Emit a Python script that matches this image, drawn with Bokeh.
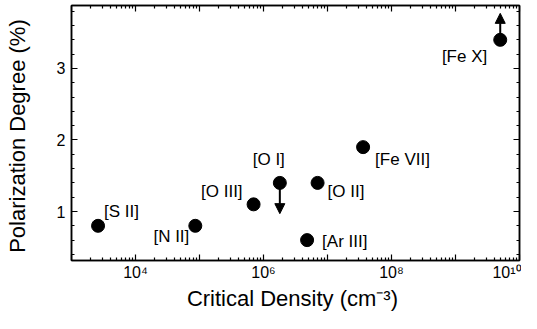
from bokeh.plotting import figure
from bokeh.models import (ColumnDataSource, FixedTicker, LinearAxis, LogAxis,
                          CustomJSTickFormatter, Arrow, NormalHead, Range1d)
from bokeh.core.properties import value
from bokeh.embed import file_html
from bokeh.resources import INLINE

# ---- data ----
lines = ["[S II]", "[N II]", "[O III]", "[O I]", "[O II]", "[Ar III]", "[Fe VII]", "[Fe X]"]
crit_density = [2.6e3, 8.6e4, 7.0e5, 1.8e6, 7.0e6, 4.8e6, 3.6e7, 5.0e9]
pol_degree = [0.8, 0.8, 1.1, 1.4, 1.4, 0.6, 1.9, 3.4]

# limits (arrows): upper limit for [O I], lower limit for [Fe X]
limit_x = [1.8e6, 5.0e9]
limit_y_start = [1.4, 3.4]
limit_y_end = [0.97, 3.77]

# label placement (pixels) -- style, not data
label_dx = [6, -6, -11, 5, 10, 15, 12, -13]
label_dy = [-14, 11, -13, -23, 9, 1, 12, 17]
label_align = ["left", "right", "right", "right", "left", "left", "left", "right"]

x_major = [10.0 ** k for k in range(3, 11)]
x_minor = [m * 10.0 ** k for k in range(3, 10) for m in range(2, 10)]
y_major = [1, 2, 3]
y_minor = [round(0.4 + 0.2 * i, 1) for i in range(18)]

FONT = "Liberation Sans"

p = figure(width=521, height=313, x_axis_type="log",
           x_range=Range1d(1e3, 1e10), y_range=Range1d(0.315, 3.88),
           output_backend="svg", toolbar_location=None,
           min_border_left=71, min_border_right=2, min_border_top=5,
           min_border_bottom=53)
p.grid.visible = False
p.outline_line_color = "black"
p.outline_line_width = 1.5
p.background_fill_color = "white"
p.border_fill_color = "white"

xt = FixedTicker(ticks=x_major, minor_ticks=x_minor)
yt = FixedTicker(ticks=y_major, minor_ticks=y_minor)

fmt = CustomJSTickFormatter(code="""
const e = Math.round(Math.log10(tick));
if (e % 2 != 0) return "";
const sup = {"0":"\u2070","1":"\u00b9","2":"\u00b2","3":"\u00b3","4":"\u2074","5":"\u2075","6":"\u2076","7":"\u2077","8":"\u2078","9":"\u2079"};
return "10" + String(e).split("").map(c => sup[c]).join("");
""")
blank = CustomJSTickFormatter(code="return '';")

def style_axis(ax, labels=True):
    ax.axis_line_width = 1.5
    ax.axis_line_color = "black"
    ax.major_tick_in = 6
    ax.major_tick_out = 0
    ax.minor_tick_in = 3
    ax.minor_tick_out = 0
    ax.major_tick_line_color = "black"
    ax.minor_tick_line_color = "black"
    ax.major_tick_line_width = 1.2
    ax.minor_tick_line_width = 1.2
    if labels:
        ax.major_label_text_font = FONT
        ax.major_label_text_font_size = "16px"
        ax.major_label_text_color = "black"
        ax.axis_label_text_font = FONT
        ax.axis_label_text_font_size = "22px"
        ax.axis_label_text_font_style = "normal"
        ax.axis_label_text_color = "black"
    else:
        ax.major_label_text_font_size = "0px"
        ax.major_label_standoff = 0

xa = p.xaxis[0]
xa.ticker = xt
xa.formatter = fmt
style_axis(xa)
xa.major_label_standoff = 3
xa.axis_label = "Critical Density  (cm\u207b\u00b3)"
xa.axis_label_standoff = 2

ya = p.yaxis[0]
ya.ticker = yt
style_axis(ya)
ya.major_label_standoff = 6
ya.axis_label = "Polarization Degree  (%)"
ya.axis_label_standoff = 24

top = LogAxis(ticker=xt, formatter=blank)
style_axis(top, labels=False)
p.add_layout(top, "above")
right = LinearAxis(ticker=yt, formatter=blank)
style_axis(right, labels=False)
p.add_layout(right, "right")

src = ColumnDataSource(dict(x=crit_density, y=pol_degree, name=lines,
                            dx=label_dx, dy=label_dy, align=label_align))
p.scatter("x", "y", source=src, size=13, color="black")
p.text("x", "y", text="name", source=src, x_offset="dx", y_offset="dy",
       text_align="align", text_baseline="middle",
       text_font=value(FONT), text_font_size="17px", text_color="black")

asrc = ColumnDataSource(dict(x0=limit_x, y0=limit_y_start, x1=limit_x, y1=limit_y_end))
p.add_layout(Arrow(end=NormalHead(size=10, fill_color="black", line_color="black"),
                   x_start="x0", y_start="y0", x_end="x1", y_end="y1",
                   source=asrc, line_width=2, line_color="black"))

open("out.html", "w").write(file_html(p, INLINE))
